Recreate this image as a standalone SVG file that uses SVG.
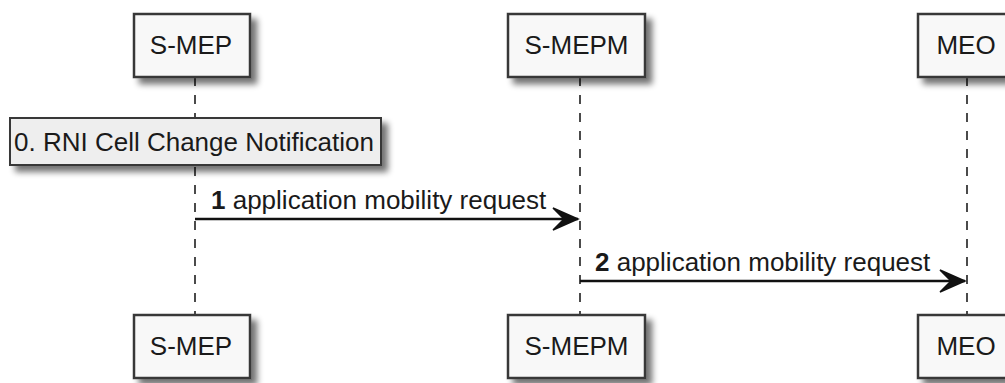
<svg xmlns="http://www.w3.org/2000/svg" width="1005" height="383" viewBox="0 0 1005 383">
  <defs>
    <filter id="shadow" x="-20%" y="-20%" width="150%" height="160%">
      <feGaussianBlur in="SourceAlpha" stdDeviation="3"/>
      <feOffset dx="6" dy="6" result="blur"/>
      <feComponentTransfer><feFuncA type="linear" slope="0.55"/></feComponentTransfer>
      <feMerge><feMergeNode/><feMergeNode in="SourceGraphic"/></feMerge>
    </filter>
    <marker id="arrow" markerUnits="userSpaceOnUse" markerWidth="30" markerHeight="30" refX="26" refY="12" orient="auto">
      <path d="M1,1 L26,12 L1,23 L12,12 Z" fill="#111111" stroke="#111111" stroke-width="1.5" stroke-linejoin="miter"/>
    </marker>
  </defs>
  <style>
    .box { fill: #F8F8F8; stroke: #383838; stroke-width: 2.5; filter: url(#shadow); }
    .note { fill: #EEEEEE; stroke: #383838; stroke-width: 2; filter: url(#shadow); }
    .life { stroke: #383838; stroke-width: 1.8; stroke-dasharray: 9 9; fill: none; }
    .msg { stroke: #111111; stroke-width: 2.5; fill: none; marker-end: url(#arrow); }
    .lbl { font-family: "Liberation Sans", Arial, sans-serif; font-size: 26px; fill: #1a1a1a; }
    .plbl { font-family: "Liberation Sans", Arial, sans-serif; font-size: 26px; fill: #1a1a1a; text-anchor: middle; }
  </style>

  <!-- lifelines -->
  <g id="lifelines">
    <line class="life" x1="195" y1="77" x2="195" y2="315"/>
    <line class="life" x1="580" y1="77" x2="580" y2="315"/>
    <line class="life" x1="967" y1="77" x2="967" y2="315"/>
  </g>

  <!-- participants, head and foot -->
  <g id="s-mep">
    <rect class="box" x="134" y="14" width="116" height="63"/>
    <text class="plbl" x="191" y="54">S-MEP</text>
    <rect class="box" x="134" y="315" width="116" height="63"/>
    <text class="plbl" x="191" y="355">S-MEP</text>
  </g>
  <g id="s-mepm">
    <rect class="box" x="508" y="14" width="137" height="63"/>
    <text class="plbl" x="576.5" y="54">S-MEPM</text>
    <rect class="box" x="508" y="315" width="137" height="63"/>
    <text class="plbl" x="576.5" y="355">S-MEPM</text>
  </g>
  <g id="meo">
    <rect class="box" x="918" y="14" width="100" height="63"/>
    <text class="plbl" x="966" y="54">MEO</text>
    <rect class="box" x="918" y="315" width="100" height="63"/>
    <text class="plbl" x="966" y="355">MEO</text>
  </g>

  <!-- note over S-MEP -->
  <g id="note0">
    <rect class="note" x="10" y="118" width="371" height="47"/>
    <text class="lbl" x="14" y="151">0. RNI Cell Change Notification</text>
  </g>

  <!-- messages -->
  <g id="connectors">
    <line class="msg" x1="195" y1="219" x2="578" y2="219"/>
    <text class="lbl" x="211" y="209"><tspan font-weight="bold">1</tspan> application mobility request</text>
    <line class="msg" x1="580" y1="281" x2="965" y2="281"/>
    <text class="lbl" x="595" y="271"><tspan font-weight="bold">2</tspan> application mobility request</text>
  </g>
</svg>
